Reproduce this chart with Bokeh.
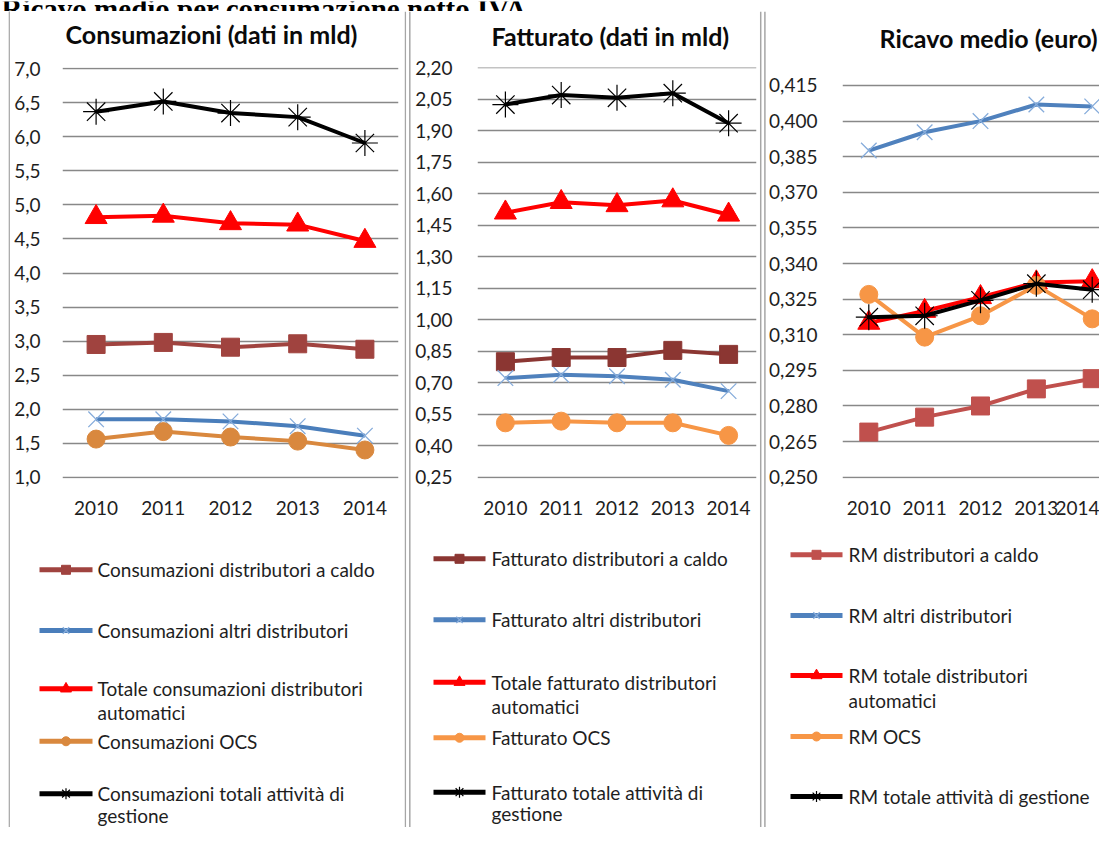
from bokeh.plotting import figure
from bokeh.models import Range1d, FixedTicker
from bokeh.layouts import row, column
from bokeh.embed import file_html
from bokeh.resources import INLINE
from bokeh.core.properties import value

FONT = "Lato"

# ---------------- data ----------------
years = [2010, 2011, 2012, 2013, 2014]
year_labels = ["2010", "2011", "2012", "2013", "2014"]

# Consumazioni (dati in mld)
cons_caldo = [2.95, 2.98, 2.91, 2.96, 2.88]
cons_altri = [1.85, 1.85, 1.82, 1.75, 1.61]
cons_tot_da = [4.82, 4.84, 4.73, 4.71, 4.47]
cons_ocs = [1.56, 1.67, 1.59, 1.53, 1.40]
cons_tot = [6.37, 6.52, 6.35, 6.29, 5.91]

# Fatturato (dati in mld)
fatt_caldo = [0.80, 0.82, 0.82, 0.854, 0.835]
fatt_altri = [0.722, 0.738, 0.731, 0.714, 0.66]
fatt_tot_da = [1.51, 1.56, 1.545, 1.568, 1.50]
fatt_ocs = [0.509, 0.517, 0.509, 0.509, 0.449]
fatt_tot = [2.025, 2.07, 2.057, 2.079, 1.936]

# Ricavo medio (euro)
rm_caldo = [0.269, 0.2753, 0.280, 0.2872, 0.2915]
rm_altri = [0.3876, 0.3953, 0.400, 0.407, 0.4062]
rm_tot_da = [0.315, 0.320, 0.3258, 0.332, 0.3325]
rm_ocs = [0.327, 0.309, 0.318, 0.3308, 0.3167]
rm_tot = [0.3174, 0.318, 0.3245, 0.3315, 0.329]

ticks_cons = [1.0, 1.5, 2.0, 2.5, 3.0, 3.5, 4.0, 4.5, 5.0, 5.5, 6.0, 6.5, 7.0]
labels_cons = ["1,0", "1,5", "2,0", "2,5", "3,0", "3,5", "4,0", "4,5", "5,0", "5,5", "6,0", "6,5", "7,0"]
ticks_fatt = [0.25, 0.40, 0.55, 0.70, 0.85, 1.00, 1.15, 1.30, 1.45, 1.60, 1.75, 1.90, 2.05, 2.20]
labels_fatt = ["0,25", "0,40", "0,55", "0,70", "0,85", "1,00", "1,15", "1,30", "1,45", "1,60",
               "1,75", "1,90", "2,05", "2,20"]
ticks_rm = [0.250, 0.265, 0.280, 0.295, 0.310, 0.325, 0.340, 0.355, 0.370, 0.385, 0.400, 0.415]
labels_rm = ["0,250", "0,265", "0,280", "0,295", "0,310", "0,325", "0,340", "0,355", "0,370",
             "0,385", "0,400", "0,415"]

names_cons = ["Consumazioni distributori a caldo", "Consumazioni altri distributori",
              "Totale consumazioni distributori\nautomatici", "Consumazioni OCS",
              "Consumazioni totali attività di\ngestione"]
names_fatt = ["Fatturato distributori a caldo", "Fatturato altri distributori",
              "Totale fatturato distributori\nautomatici", "Fatturato OCS",
              "Fatturato totale attività di\ngestione"]
names_rm = ["RM distributori a caldo", "RM altri distributori",
            "RM totale distributori\nautomatici", "RM OCS", "RM totale attività di gestione"]

titles = ["Consumazioni (dati in mld)", "Fatturato (dati in mld)", "Ricavo medio (euro)"]
heading = "Ricavo medio per consumazione netto IVA"

# ---------------- styles ----------------
GRID = "#888888"
TXT = "#1e1e1e"


def styles(brown, blue_line, blue_mk, orange):
    return [
        dict(line=brown, marker="square", size=18, fill=brown, mline=brown, mlw=1, lsize=9),
        dict(line=blue_line, marker="x", size=22, fill=None, mline=blue_mk, mlw=1.3, lsize=9),
        dict(line="#ff0000", marker="triangle", size=22, fill="#ff0000", mline="#ff0000", mlw=1, lsize=11),
        dict(line=orange, marker="circle", size=18, fill=orange, mline=orange, mlw=1, lsize=9),
        dict(line="#000000", marker="asterisk", size=26, fill=None, mline="#000000", mlw=1.2, lsize=11),
    ]


st1 = styles("#a0433f", "#4a7ebb", "#86acdb", "#d9883e")
st2 = styles("#8b3632", "#4f81bd", "#86acdb", "#f79646")
st3 = styles("#c0504d", "#4f81bd", "#86acdb", "#f79646")

# ---------------- geometry (px, from the top-left of the layout) ----------------
RIGHT = 1099
ROW_TOP = 11
TITLE_BOTTOM = 57
CH_BOTTOM = 540
PAGE_BOTTOM = 827
FT, FB = 67, 478  # frame top / bottom


def base(w, h, xr, yr, **kw):
    p = figure(width=w, height=h, x_range=Range1d(*xr), y_range=Range1d(*yr),
               output_backend="svg", toolbar_location=None, tools="", frame_align=False, **kw)
    p.outline_line_color = None
    p.background_fill_color = "white"
    p.border_fill_color = "white"
    return p


def plain(px0, px1, py0, py1):
    p = base(px1 - px0, py1 - py0, (px0, px1), (py1, py0), x_axis_type=None, y_axis_type=None,
             min_border=0)
    p.grid.visible = False
    return p


def make_title(px0, px1, title, tx, ty):
    p = plain(px0, px1, ROW_TOP, TITLE_BOTTOM)
    p.text(x=[tx], y=[ty], text=[title], text_font=value(FONT), text_font_style="bold",
           text_font_size="25px", text_color="#0a0a0a", text_baseline="middle", text_align="left")
    return p


def make_chart(px0, px1, fl, fr, xr, yr, ticks, labels, series, sty, standoff):
    p = base(px1 - px0, CH_BOTTOM - TITLE_BOTTOM, xr, yr,
             min_border_left=fl - px0, min_border_right=px1 - fr,
             min_border_top=FT - TITLE_BOTTOM, min_border_bottom=CH_BOTTOM - FB)
    p.xaxis.ticker = FixedTicker(ticks=years)
    p.xaxis.major_label_overrides = {y: l for y, l in zip(years, year_labels)}
    p.yaxis.ticker = FixedTicker(ticks=ticks)
    p.yaxis.major_label_overrides = {t: l for t, l in zip(ticks, labels)}
    p.ygrid.ticker = FixedTicker(ticks=ticks)
    p.xgrid.visible = False
    p.ygrid.grid_line_color = GRID
    p.ygrid.grid_line_width = 1.3
    for ax in (p.xaxis[0], p.yaxis[0]):
        ax.axis_line_color = None
        ax.major_tick_line_color = None
        ax.minor_tick_line_color = None
        ax.major_tick_out = 0
        ax.major_tick_in = 0
        ax.minor_tick_out = 0
        ax.major_label_text_font = FONT
        ax.major_label_text_font_size = "19px"
        ax.major_label_text_color = TXT
    p.yaxis.major_label_standoff = standoff
    p.xaxis.major_label_standoff = 22

    for vals, s in zip(series, sty):
        p.line(years, vals, line_color=s["line"], line_width=4)
        p.scatter(years, vals, marker=s["marker"], size=s["size"], fill_color=s["fill"],
                  line_color=s["mline"], line_width=s["mlw"])
    return p


def make_legend(px0, px1, names, sty, lx0, lx1, tx, ys, squeeze):
    p = plain(px0, px1, CH_BOTTOM, PAGE_BOTTOM)

    def place(y):  # keep the lowest lines inside the page
        return y if y < 700 else 700 + (y - 700) * squeeze

    for name, s, y in zip(names, sty, ys):
        yy = place(y)
        p.line([lx0, lx1], [yy, yy], line_color=s["line"], line_width=5)
        p.scatter([(lx0 + lx1) / 2], [yy], marker=s["marker"], size=s["lsize"], fill_color=s["fill"],
                  line_color=s["mline"], line_width=s["mlw"])
        lines = name.split("\n")
        p.text(x=[tx] * len(lines), y=[place(y + i * 25) for i in range(len(lines))], text=lines,
               text_font=value(FONT), text_font_size="19px", text_color=TXT,
               text_baseline="middle", text_align="left")
    return p


def strip(px0, px1, py0, py1, xs, ys, color, width, dash):
    p = plain(px0, px1, py0, py1)
    for x, y in zip(xs, ys):
        p.line(x, y, line_color=color, line_width=width, line_dash=dash)
    return p


t1 = make_title(11, 404, titles[0], 65, 33)
t2 = make_title(411, 759, titles[1], 491, 35)
t3 = make_title(766, RIGHT, titles[2], 879, 37)

c1 = make_chart(11, 404, 62, 398, (2009.5, 2014.5), (0.9809, 7.0191), ticks_cons, labels_cons,
                [cons_caldo, cons_altri, cons_tot_da, cons_ocs, cons_tot], st1, 22)
c2 = make_chart(411, 759, 477, 756, (2009.5, 2014.5), (0.2438, 2.2014), ticks_fatt, labels_fatt,
                [fatt_caldo, fatt_altri, fatt_tot_da, fatt_ocs, fatt_tot], st2, 25)
c3 = make_chart(766, RIGHT, 842, RIGHT, (2009.529, 2009.529 + (RIGHT - 842) / 55.85), (0.24945, 0.42258),
                ticks_rm, labels_rm, [rm_caldo, rm_altri, rm_tot_da, rm_ocs, rm_tot], st3, 25)

l1 = make_legend(11, 404, names_cons, st1, 39, 92, 97, [569.3, 630, 688.3, 746.7, 806.7], 0.873)
l2 = make_legend(411, 759, names_fatt, st2, 433, 485, 491, [558.3, 619.3, 681.7, 742.7, 805], 0.873)
l3 = make_legend(766, RIGHT, names_rm, st3, 790, 842, 848, [554.3, 615, 675, 736, 796], 1.0)

top = strip(0, RIGHT, 0, ROW_TOP, [[8, RIGHT]], [[10, 10]], "#4a4a4a", 1.2, "1 1")
top.text(x=[1], y=[7.5], text=[heading], text_font=value("Liberation Serif"), text_font_style="bold",
         text_font_size="29px", text_color="#000000", text_baseline="alphabetic", text_align="left")
left = strip(0, 11, ROW_TOP, PAGE_BOTTOM, [[8.8, 8.8]], [[ROW_TOP, PAGE_BOTTOM]], "#4a4a4a", 1.2, "1 1")
sep1 = strip(404, 411, ROW_TOP, PAGE_BOTTOM, [[404.8, 404.8], [409.3, 409.3]],
             [[ROW_TOP, PAGE_BOTTOM], [ROW_TOP, PAGE_BOTTOM]], "#a6a6a6", 1.5, "solid")
sep2 = strip(759, 766, ROW_TOP, PAGE_BOTTOM, [[760.2, 760.2], [764.4, 764.4]],
             [[ROW_TOP, PAGE_BOTTOM], [ROW_TOP, PAGE_BOTTOM]], "#a6a6a6", 1.5, "solid")

layout = column(top, row(left, column(t1, c1, l1), sep1, column(t2, c2, l2), sep2,
                         column(t3, c3, l3)))

open("out.html", "w").write(file_html(layout, INLINE))
